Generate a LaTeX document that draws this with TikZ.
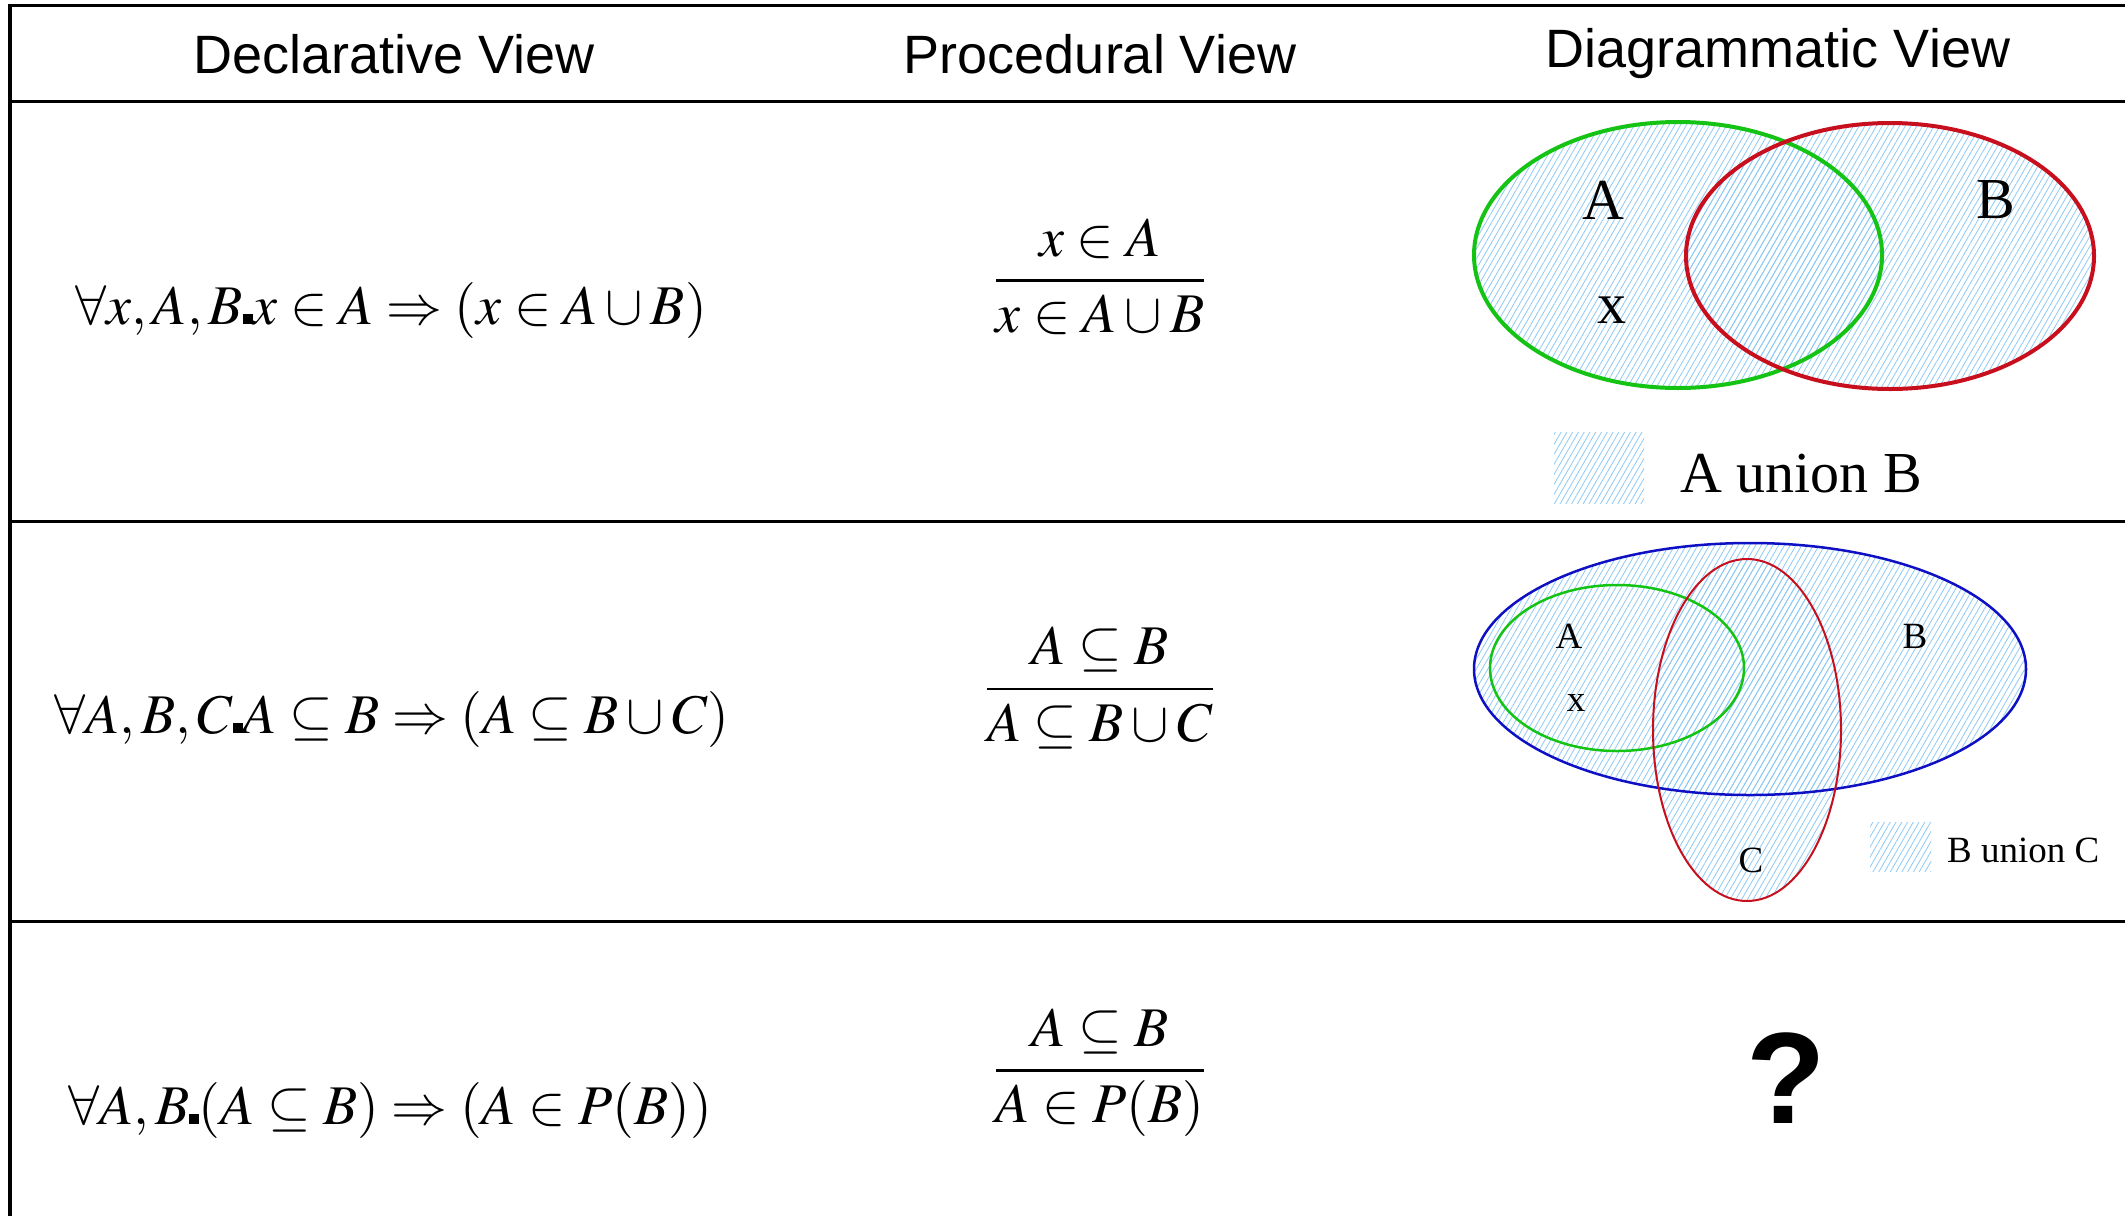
\documentclass[tikz,border=0pt]{standalone}
\usepackage{mathptmx}
\usepackage[no-math]{fontspec}
\setmainfont{Liberation Serif}
\newfontfamily\headfont{Liberation Sans}
\usetikzlibrary{patterns.meta}

\definecolor{hatchblue}{RGB}{140,200,245}
\definecolor{setgreen}{RGB}{20,195,20}
\definecolor{setred}{RGB}{200,15,30}
\definecolor{setblue}{RGB}{15,15,195}

\newcommand{\qdot}{\rule{0.17em}{0.17em}}

\tikzset{
  gridline/.style={line width=3pt},
  head/.style={font=\headfont\fontsize{54}{60}\selectfont, inner sep=0pt},
  formula/.style={font=\fontsize{56}{64}\selectfont, inner sep=0pt},
  hatched/.style={pattern={Lines[angle=60,distance=5pt,line width=0.8pt]}, pattern color=hatchblue},
  biglabel/.style={font=\fontsize{58}{64}\selectfont, inner sep=0pt},
  smalllabel/.style={font=\fontsize{37}{42}\selectfont, inner sep=0pt},
}

\begin{document}
\begin{tikzpicture}[x=1pt,y=-1pt]
  \useasboundingbox (0,0) rectangle (2125,1216);
  % Table rules
  \draw[gridline] (10,5.5) -- (2125,5.5);
  \draw[gridline] (10,101) -- (2125,101);
  \draw[gridline] (10,521) -- (2125,521);
  \draw[gridline] (10,921) -- (2125,921);
  \draw[line width=4pt] (10,4) -- (10,1216);
  % Header
  \node[head] (hdecl) at (394,54) {Declarative View};
  \node[head] (hproc) at (1100,54) {Procedural View};
  \node[head] (hdiag) at (1778,54) {Diagrammatic View};
  % Declarative column
  \node[formula] (decl1) at (391,310) {$\forall x,A,B\qdot x\in A\Rightarrow(x\in A\cup B)$};
  \node[formula] (decl2) at (392,719) {$\forall A,B,C\qdot A\subseteq B\Rightarrow(A\subseteq B\cup C)$};
  \node[formula] (decl3) at (390,1110) {$\forall A,B\qdot(A\subseteq B)\Rightarrow(A\in P(B))$};
  % Procedural column
  \node[formula] (proc1) at (1100,277) {$\displaystyle\frac{x\in A}{x\in A\cup B}$};
  \node[formula] (proc2) at (1100,688) {$\displaystyle\frac{A\subseteq B}{A\subseteq B\cup C}$};
  \node[formula] (proc3) at (1100,1073) {$\displaystyle\frac{A\subseteq B}{A\in P(B)}$};
  % Diagram: A union B
  \fill[hatched] (1678,255) ellipse [x radius=204pt, y radius=133pt];
  \fill[hatched] (1890,256) ellipse [x radius=204pt, y radius=133pt];
  \draw[setgreen, line width=4pt] (1678,255) ellipse [x radius=204pt, y radius=133pt];
  \draw[setred, line width=4pt] (1890,256) ellipse [x radius=204pt, y radius=133pt];
  \node[biglabel] (setA1) at (1603,200) {A};
  \node[biglabel] (setB1) at (1996,200) {B};
  \node[biglabel] (elx1) at (1612,310) {x};
  \fill[hatched] (1554,432) rectangle (1644,503);
  \node[biglabel, anchor=west] (key1) at (1680,474) {A union B};
  % Diagram: B union C
  \fill[hatched] (1750,669) ellipse [x radius=276pt, y radius=126pt];
  \fill[hatched] (1747,730) ellipse [x radius=94pt, y radius=171pt];
  \draw[setblue, line width=2.5pt] (1750,669) ellipse [x radius=276pt, y radius=126pt];
  \draw[setgreen, line width=2.5pt] (1617,668) ellipse [x radius=127pt, y radius=83pt];
  \draw[setred, line width=2pt] (1747,730) ellipse [x radius=94pt, y radius=171pt];
  \node[smalllabel] (setA2) at (1569,636) {A};
  \node[smalllabel] (setB2) at (1915,636) {B};
  \node[smalllabel] (elx2) at (1576,703) {x};
  \node[smalllabel] (setC2) at (1751,860) {C};
  \fill[hatched] (1870,822) rectangle (1931,871);
  \node[smalllabel, anchor=west] (key2) at (1947,850) {B union C};
  % Diagram: power set
  \node[font=\headfont\bfseries\fontsize{130}{140}\selectfont, inner sep=0pt] (query) at (1786,1078) {?};
\end{tikzpicture}
\end{document}
